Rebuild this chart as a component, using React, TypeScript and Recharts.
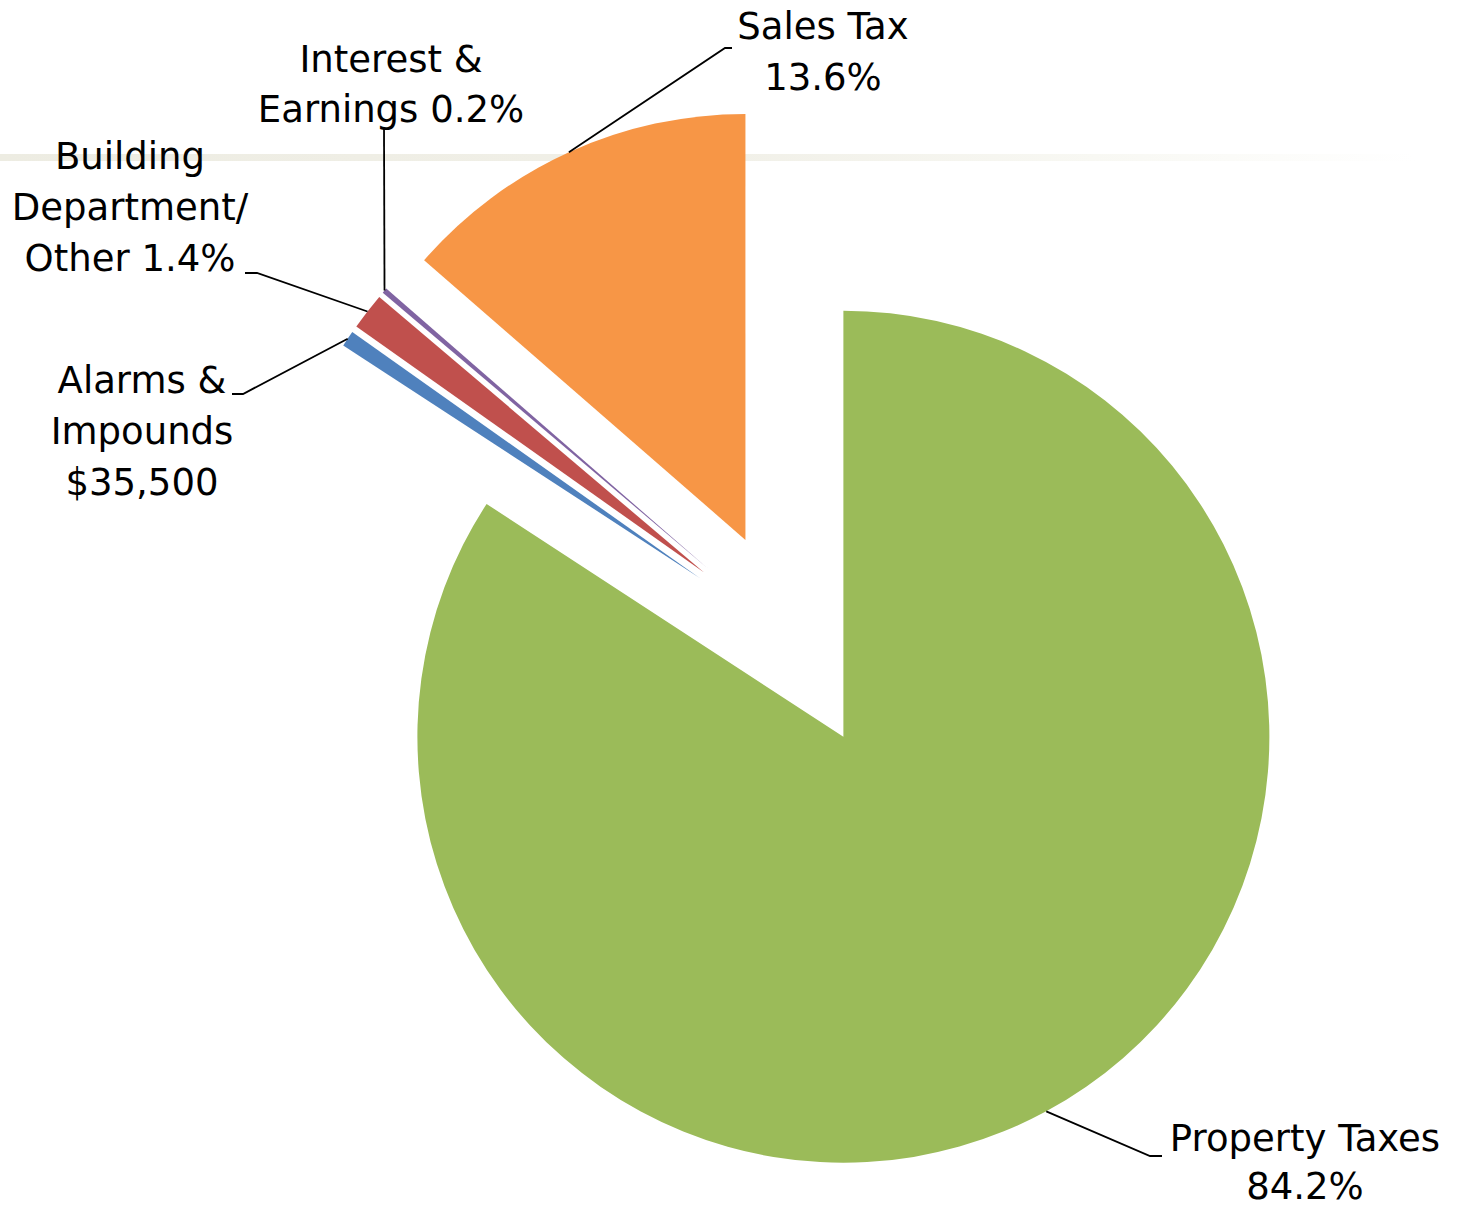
import React from 'react';
import { PieChart, Pie, Cell } from 'recharts';

// ---- data ----
const categories = [
  'Property Taxes',
  'Alarms & Impounds',
  'Building Department/Other',
  'Interest & Earnings',
  'Sales Tax',
];
const shares = [84.2, 0.6, 1.4, 0.2, 13.6];
const labelTexts = [
  ['Property Taxes', '84.2%'],
  ['Alarms &', 'Impounds', '$35,500'],
  ['Building', 'Department/', 'Other 1.4%'],
  ['Interest &', 'Earnings 0.2%'],
  ['Sales Tax', '13.6%'],
];
const colors = ['#9BBB59', '#4F81BD', '#C0504D', '#8064A2', '#F79646'];

const data = categories.map((name, i) => ({ name, value: shares[i] }));

// ---- layout ----
const W = 1459;
const H = 1211;
const CX = 791;
const CY = 640;
const R = 426;
const EXPLODE = 110;
const FONT = 37;
const FONT_FAMILY = '"DejaVu Sans", Verdana, sans-serif';

// label text centre x, first baseline y, line height, leader-line elbow points (from arc outward)
const LABEL_LAYOUT = [
  { x: 1305, y: 1151, lh: 48, path: [[1150, 1156], [1162, 1156]] },
  { x: 142, y: 393, lh: 51, path: [[243, 394], [232, 394]] },
  { x: 130, y: 169, lh: 51, path: [[257, 273], [245, 273]] },
  { x: 391, y: 72, lh: 50, path: [[384, 128]] },
  { x: 823, y: 39, lh: 51, path: [[725, 48], [732, 48]] },
];

const total = shares.reduce((a, b) => a + b, 0);
let acc = 0;
const explodeOffsets = shares.map((v) => {
  const mid = ((acc + v / 2) / total) * 2 * Math.PI;
  acc += v;
  return { dx: EXPLODE * Math.sin(mid), dy: -EXPLODE * Math.cos(mid), mid };
});

const RAD = Math.PI / 180;

const makeLabel = (i: number) => (p: any) => {
  if (p.index !== i) return null;
  const cx = typeof p.cx === 'number' ? p.cx : CX + explodeOffsets[i].dx;
  const cy = typeof p.cy === 'number' ? p.cy : CY + explodeOffsets[i].dy;
  const r = typeof p.outerRadius === 'number' ? p.outerRadius : R;
  let ax: number, ay: number;
  if (typeof p.midAngle === 'number') {
    ax = cx + r * Math.cos(-p.midAngle * RAD);
    ay = cy + r * Math.sin(-p.midAngle * RAD);
  } else {
    ax = cx + r * Math.sin(explodeOffsets[i].mid);
    ay = cy - r * Math.cos(explodeOffsets[i].mid);
  }
  const lay = LABEL_LAYOUT[i];
  const pts = [[ax, ay], ...lay.path].map((q) => q.join(',')).join(' ');
  return (
    <g key={`lbl-${i}`}>
      <polyline points={pts} fill="none" stroke="#000" strokeWidth={1.8} />
      {labelTexts[i].map((t, k) => (
        <text
          key={k}
          x={lay.x}
          y={lay.y + k * lay.lh}
          textAnchor="middle"
          fontFamily={FONT_FAMILY}
          fontSize={FONT}
          fill="#000"
        >
          {t}
        </text>
      ))}
    </g>
  );
};

export default function App() {
  return (
    <div style={{ position: 'absolute', left: 0, top: 0, width: W, height: H, background: '#fff' }}>
      <div
        style={{
          position: 'absolute',
          left: 0,
          top: 154,
          width: W,
          height: 7,
          background: 'linear-gradient(to right, #EDECE2 0%, #F1F0E8 50%, #F8F8F3 75%, #FFFFFF 97%)',
        }}
      />
      <div style={{ position: 'absolute', left: 0, top: 0 }}>
        <PieChart width={W} height={H} margin={{ top: 0, right: 0, bottom: 0, left: 0 }}>
          {data.map((_, i) => (
            <Pie
              key={i}
              data={data}
              dataKey="value"
              nameKey="name"
              cx={CX + explodeOffsets[i].dx}
              cy={CY + explodeOffsets[i].dy}
              innerRadius={0}
              outerRadius={R}
              startAngle={90}
              endAngle={-270}
              isAnimationActive={false}
              label={makeLabel(i)}
              labelLine={false}
              stroke="none"
            >
              {data.map((d, j) => (
                <Cell key={j} fill={j === i ? colors[j] : 'none'} stroke="none" />
              ))}
            </Pie>
          ))}
        </PieChart>
      </div>
    </div>
  );
}
